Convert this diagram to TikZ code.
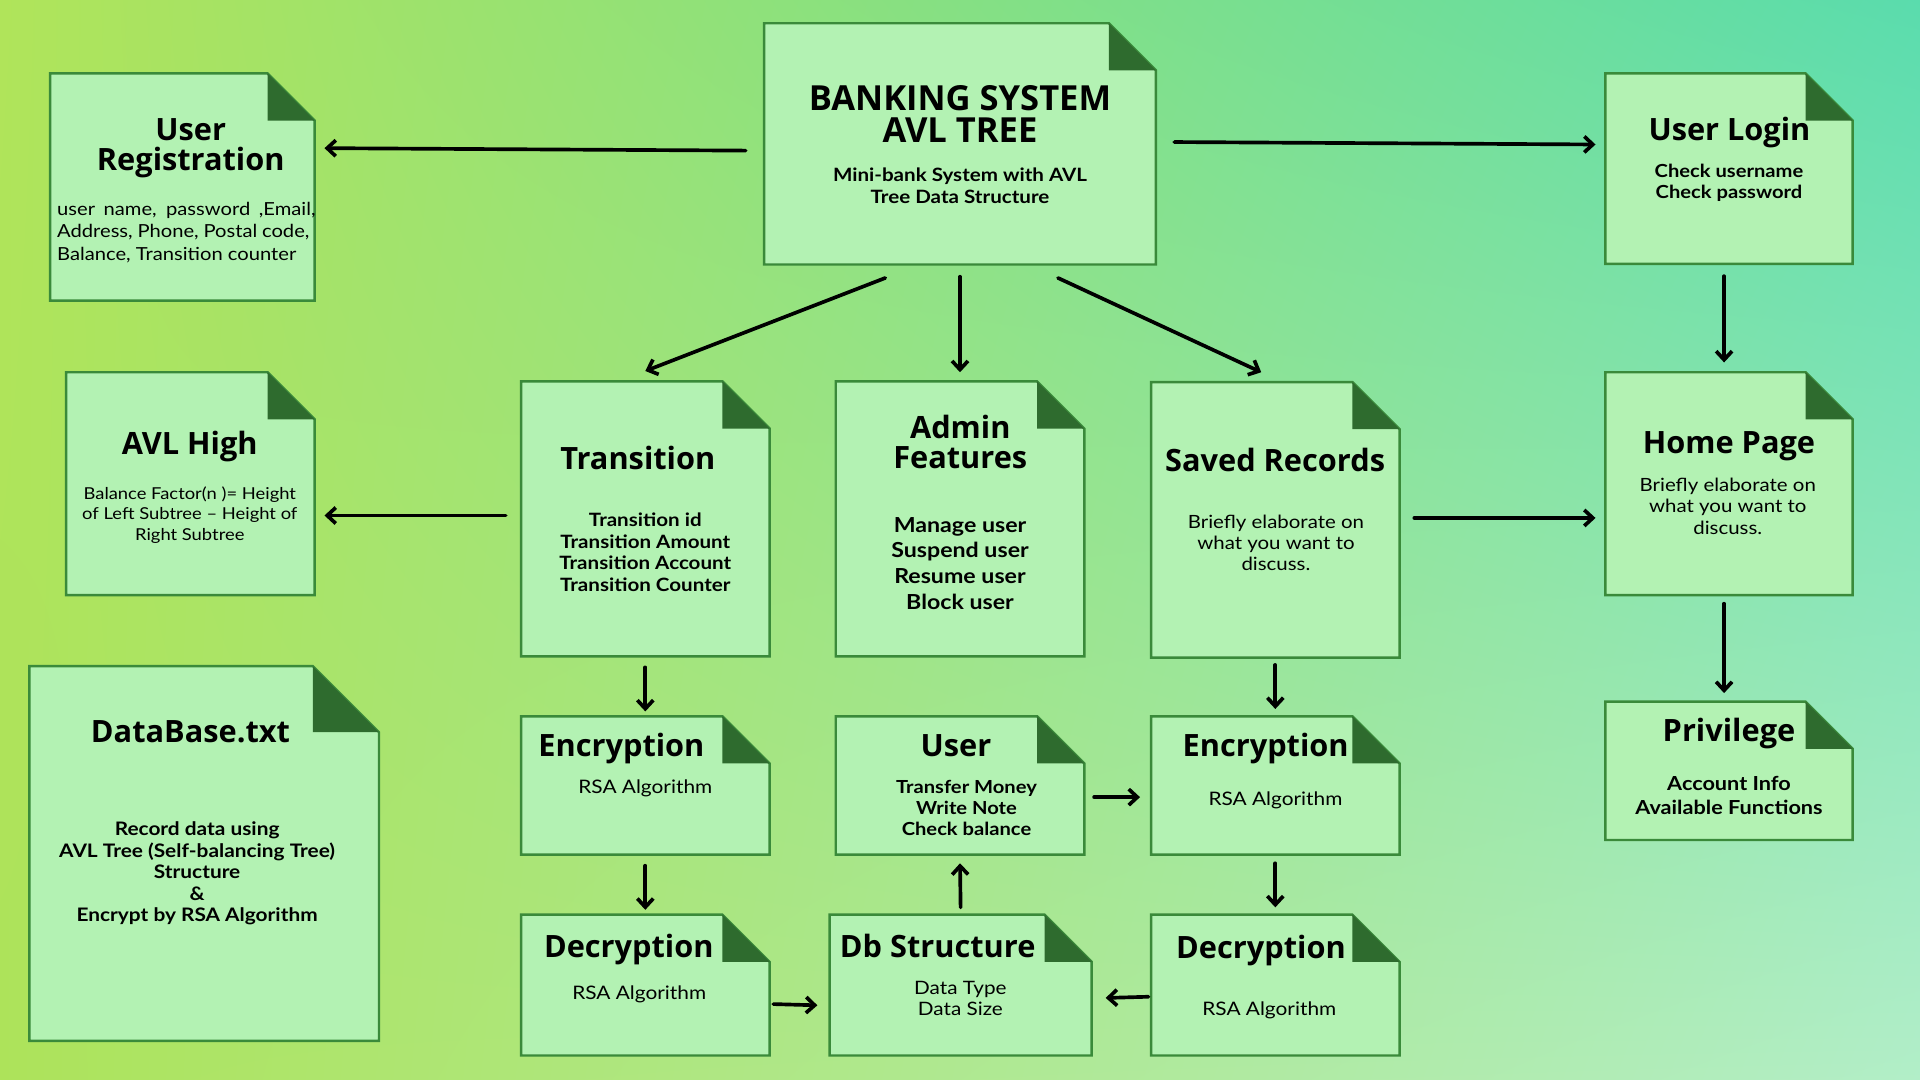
\documentclass[tikz,border=0pt]{standalone}
\usepackage{fontspec}
\setmainfont{Lato}[FakeStretch=1.12]
\newfontfamily\headfont{Open Sans}
\usetikzlibrary{arrows.meta,calc,shadings}
\definecolor{boxfill}{HTML}{B3F2B3}
\definecolor{boxline}{HTML}{3A8A3A}
\definecolor{foldc}{HTML}{2E6B2E}
\definecolor{bgTL}{HTML}{B0E45A}
\definecolor{bgTR}{HTML}{5ADCAD}
\definecolor{bgBL}{HTML}{ADE35A}
\definecolor{bgBR}{HTML}{B2EEC8}
\tikzset{
  docshape/.style={fill=boxfill, draw=boxline, line width=2pt, line join=miter},
  foldshape/.style={fill=foldc},
  boxnode/.style={inner sep=0pt, outer sep=0pt, draw=none, rectangle},
  head/.style={font={\headfont\bfseries\fontsize{25.1pt}{25pt}\selectfont}, align=center, inner sep=0pt, anchor=base},
  bigHead/.style={font={\headfont\bfseries\fontsize{28.2pt}{26pt}\selectfont}, align=center, inner sep=0pt, anchor=base},
  semi/.style 2 args={font={\bfseries\fontsize{#1}{#2}\selectfont}, align=center, inner sep=0pt, anchor=base},
  reg/.style 2 args={font={\fontsize{#1}{#2}\selectfont}, align=center, inner sep=0pt, anchor=base},
  arr/.style={line width=3pt, line cap=round, -{Straight Barb[length=7pt,width=13pt]}},
}
\newcommand\docbox[6]{%
  \filldraw[docshape] ({#2},{#3}) -- ({#4-#6},{#3}) -- ({#4},{#3+#6}) -- ({#4},{#5}) -- ({#2},{#5}) -- cycle;
  \fill[foldshape] ({#4-#6},{#3}) -- ({#4-#6},{#3+#6}) -- ({#4},{#3+#6}) -- cycle;
  \node[boxnode, minimum width={(#4-#2)*1pt}, minimum height={(#5-#3)*1pt}] (#1) at ({(#2+#4)/2},{(#3+#5)/2}) {};
}
\begin{document}
\begin{tikzpicture}[x=1pt,y=-1pt]
\useasboundingbox (0,0) rectangle (1568,882);
\shade[upper left=bgTL, upper right=bgTR, lower left=bgBL, lower right=bgBR] (0,0) rectangle (1568,882);

% boxes
\docbox{bank}{624}{19}{944}{216}{38.5}
\docbox{ureg}{41}{60}{257}{245.5}{38.5}
\docbox{login}{1311}{60}{1513}{215.5}{38.5}
\docbox{avl}{54}{304}{257}{486}{38.5}
\docbox{trans}{425.5}{311.5}{628.5}{536}{38.5}
\docbox{admin}{682.5}{311.5}{885.5}{536}{38.5}
\docbox{saved}{940}{312}{1143}{537}{38.5}
\docbox{home}{1311}{304}{1513}{486}{38.5}
\docbox{db}{24}{544}{309.5}{850}{54}
\docbox{encA}{425.5}{585}{628.5}{698}{38.5}
\docbox{user}{682.5}{585}{885.5}{698}{38.5}
\docbox{encB}{940}{585}{1143}{698}{38.5}
\docbox{priv}{1311}{573}{1513}{686}{38.5}
\docbox{decA}{425.5}{747}{628.5}{862}{38.5}
\docbox{dbs}{677.5}{747}{891.5}{862}{38.5}
\docbox{decB}{940}{747}{1143}{862}{38.5}

% texts (anchor = baseline of the last line)
\node[bigHead] (bankH) at (784,116.5) {BANKING SYSTEM\\AVL TREE};
\node[semi={15pt}{17.5pt}] (bankB) at (784,165.9) {Mini-bank System with AVL\\Tree Data Structure};

\node[head, font={\headfont\bfseries\fontsize{25.1pt}{24.5pt}\selectfont}] (uregH) at (155.8,139.2) {User\\Registration};
\node[reg={14.7pt}{18.6pt}, align=left, anchor=base west] (uregB) at (46.5,212.9)
  {\makebox[211pt][s]{user name, password ,Email,}\\\makebox[206pt][s]{Address, Phone, Postal code,}\\Balance, Transition counter};

\node[head] (loginH) at (1412.4,114.5) {User Login};
\node[semi={14.7pt}{17.2pt}] (loginB) at (1412,162.4) {Check username\\Check password};

\node[head] (avlH) at (155,371) {AVL High};
\node[reg={13.4pt}{16.4pt}] (avlB) at (155,441) {Balance Factor(n )= Height\\of Left Subtree -- Height of\\Right Subtree};

\node[head] (transH) at (520.9,383.3) {Transition};
\node[semi={15pt}{17.6pt}] (transB) at (527,482.9) {Transition id\\Transition Amount\\Transition Account\\Transition Counter};

\node[head] (adminH) at (784.2,383) {Admin\\Features};
\node[semi={16.9pt}{21pt}] (adminB) at (784,497.6) {Manage user\\Suspend user\\Resume user\\Block user};

\node[head] (savedH) at (1041.3,385) {Saved Records};
\node[reg={14.9pt}{16.9pt}] (savedB) at (1042,465.8) {Briefly elaborate on\\what you want to\\discuss.};

\node[head] (homeH) at (1412,370.5) {Home Page};
\node[reg={14.9pt}{17.4pt}] (homeB) at (1411,436.3) {Briefly elaborate on\\what you want to\\discuss.};

\node[head] (privH) at (1412,605.5) {Privilege};
\node[semi={15.8pt}{19.7pt}] (privB) at (1412,665.1) {Account Info\\Available Functions};

\node[head] (dbH) at (155.6,606.5) {DataBase.txt};
\node[semi={15.2pt}{17.55pt}] (dbB) at (161,752.7) {Record data using\\AVL Tree (Self-balancing Tree)\\Structure\\\&\\Encrypt by RSA Algorithm};

\node[head] (encAH) at (507.5,618) {Encryption};
\node[reg={15.2pt}{17pt}] (encAB) at (527,648) {RSA Algorithm};

\node[head] (userH) at (780.7,618) {User};
\node[semi={14.7pt}{17.3pt}] (userB) at (789.3,682.5) {Transfer Money\\Write Note\\Check balance};

\node[head] (encBH) at (1033.6,617.6) {Encryption};
\node[reg={15.2pt}{17pt}] (encBB) at (1041.6,657.6) {RSA Algorithm};

\node[head] (decAH) at (513.5,782) {Decryption};
\node[reg={15.2pt}{17pt}] (decAB) at (522,816) {RSA Algorithm};

\node[head] (dbsH) at (765.8,781.8) {Db Structure};
\node[reg={15.1pt}{17.7pt}] (dbsB) at (784.3,829.5) {Data Type\\Data Size};

\node[head] (decBH) at (1029.8,782.7) {Decryption};
\node[reg={15.2pt}{17pt}] (decBB) at (1036.6,829) {RSA Algorithm};

% arrows
\draw[arr] ($(bank.north west)+(-15,104)$) -- ($(ureg.north east)+(8,61)$);
\draw[arr] ($(bank.north east)+(15,97)$) -- ($(login.north west)+(-8,58)$);
\draw[arr] ($(bank.south west)+(99,11)$) -- ($(trans.north)+(0,-8.5)$);
\draw[arr] ($(bank.south)+(0,10)$) -- ($(admin.north)+(0,-7.5)$);
\draw[arr] ($(bank.south east)+(-80,11)$) -- ($(saved.north)+(-11.5,-8)$);
\draw[arr] ($(login.south)+(-4,10)$) -- ($(home.north)+(-4,-8)$);
\draw[arr] ($(trans.north west)+(-12.5,109.5)$) -- ($(avl.north east)+(8,117)$);
\draw[arr] ($(saved.north east)+(12,111)$) -- ($(home.north west)+(-8,119)$);
\draw[arr] ($(home.south)+(-4,7)$) -- ($(priv.north)+(-4,-7)$);
\draw[arr] ($(trans.south)+(0,9)$) -- ($(encA.north)+(0,-4)$);
\draw[arr] ($(encA.south)+(0,9)$) -- ($(decA.north)+(0,-4)$);
\draw[arr] ($(decA.north east)+(3,73)$) -- ($(dbs.north west)+(-10,74)$);
\draw[arr] ($(dbs.north)+(0,-6)$) -- ($(user.south)+(0,7)$);
\draw[arr] ($(user.north east)+(8,66)$) -- ($(encB.north west)+(-9,66)$);
\draw[arr] ($(saved.south)+(0,6)$) -- ($(encB.north)+(0,-6)$);
\draw[arr] ($(encB.south)+(0,7)$) -- ($(decB.north)+(0,-6)$);
\draw[arr] ($(decB.north west)+(-2,67)$) -- ($(dbs.north east)+(11.5,68)$);
\end{tikzpicture}
\end{document}
